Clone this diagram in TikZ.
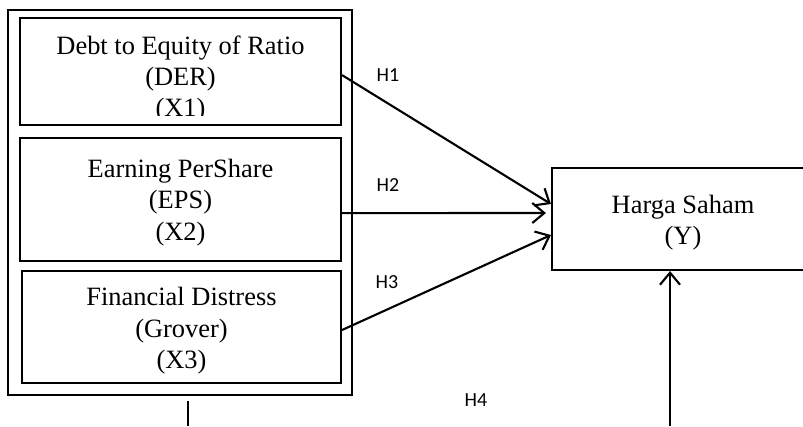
\documentclass[tikz,border=0pt]{standalone}
\usepackage{fontspec}
\setmainfont{Liberation Serif}
\newfontfamily\hypfont{Carlito}
\usetikzlibrary{arrows.meta}
\usetikzlibrary{calc}

\begin{document}
\begin{tikzpicture}[
  box/.style={draw,line width=1.5pt,inner sep=0pt},
  boxtext/.style={align=center,font=\fontsize{18.8pt}{22.4pt}\selectfont},
  hyp/.style={font=\hypfont\fontsize{14.2pt}{17pt}\selectfont},
  link/.style={line width=1.5pt,-{Straight Barb[length=0.3cm,width=0.5cm]}}
]
\useasboundingbox (0,0) rectangle (20.075,-10.65);
\node[box,minimum width=8.6cm,minimum height=9.625cm] (group) at (4.5,-5.0625) {};
\node[box,minimum width=8.025cm,minimum height=2.675cm] (der) at (4.5125,-1.7875) {};
\node[box,minimum width=8.025cm,minimum height=3.075cm] (eps) at (4.5125,-4.9875) {};
\node[box,minimum width=7.975cm,minimum height=2.8cm] (grover) at (4.5375,-8.175) {};
\node[box,minimum width=6.55cm,minimum height=2.55cm] (harga) at (17.075,-5.475) {};
\begin{scope}
\clip (der.north west) rectangle ([yshift=0.275cm]der.south east);
\node[boxtext] (dertext) at (4.5125,-1.975) {Debt to Equity of Ratio\\(DER)\\(X1)};
\end{scope}
\node[boxtext] (epstext) at (4.5125,-5.0625) {Earning PerShare\\(EPS)\\(X2)};
\node[boxtext] (grovertext) at (4.5375,-8.275) {Financial Distress\\(Grover)\\(X3)};
\node[boxtext] (hargatext) at (17.075,-5.5625) {Harga Saham\\(Y)};
\draw[link] ([yshift=-0.09cm]der.east) -- ([yshift=0.375cm]harga.west);
\draw[link] ([yshift=-0.34cm]eps.east) -- ([xshift=-0.125cm,yshift=0.15cm]harga.west);
\draw[link] ([yshift=-0.075cm]grover.east) -- ([yshift=-0.4cm]harga.west);
\coordinate (groupfoot) at (4.7,-10.65);
\coordinate (hargafoot) at (16.75,-10.65);
\draw[line width=1.5pt] ([yshift=-0.125cm]group.south -| groupfoot) -- (groupfoot);
\draw[link] (hargafoot) -- (hargafoot |- harga.south);
\node[hyp] (h1) at (9.7,-1.875) {H1};
\node[hyp] (h2) at (9.7,-4.625) {H2};
\node[hyp] (h3) at (9.675,-7.05) {H3};
\node[hyp] (h4) at (11.9,-10.0) {H4};
\end{tikzpicture}
\end{document}
